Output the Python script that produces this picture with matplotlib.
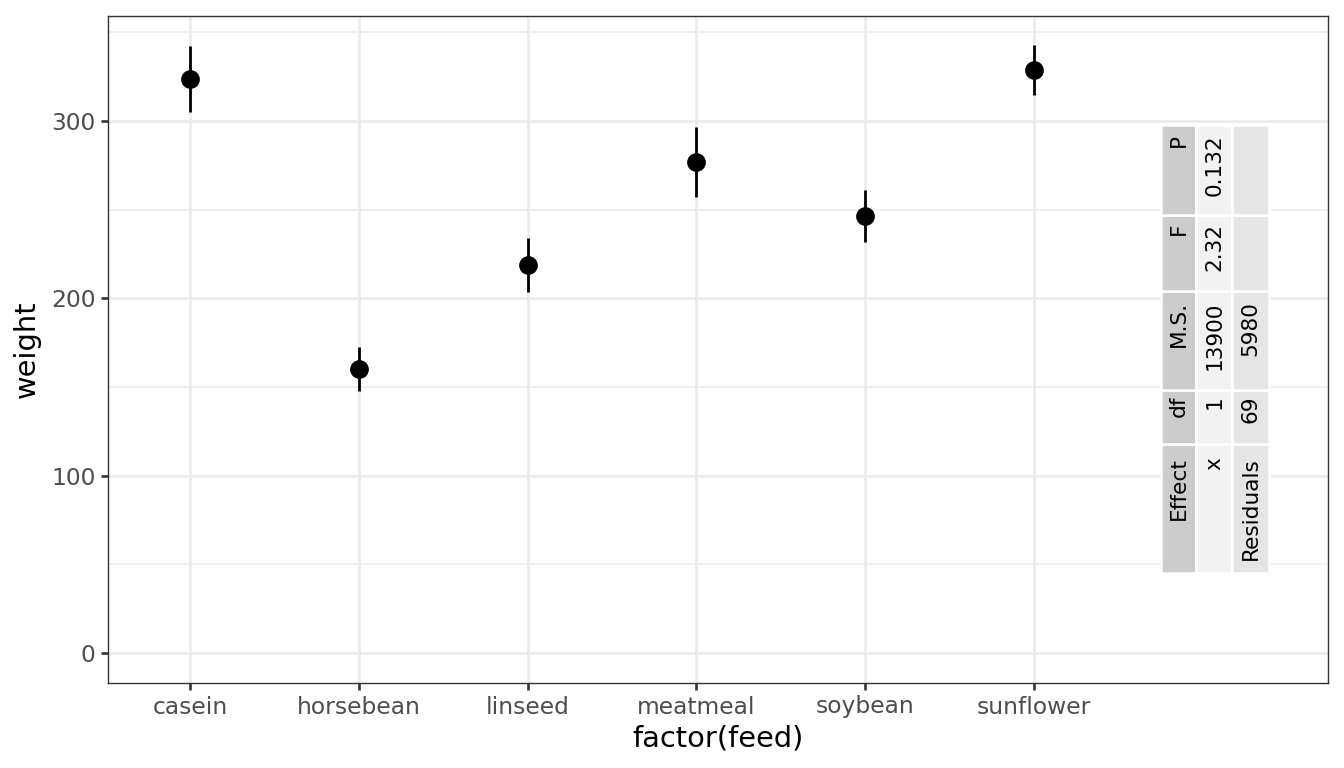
import matplotlib
matplotlib.use("Agg")
import matplotlib.pyplot as plt
from matplotlib.patches import Rectangle
from matplotlib.ticker import FixedLocator

# ---- data ----
feeds = ["casein", "horsebean", "linseed", "meatmeal", "soybean", "sunflower"]
mean_weight = [323.6, 160.2, 218.8, 276.9, 246.4, 328.9]
lower_weight = [305.0, 148.0, 203.7, 257.3, 232.0, 314.8]
upper_weight = [342.2, 172.4, 233.8, 296.5, 260.9, 343.0]
y_ticks = [0, 100, 200, 300]
y_minor = [50, 150, 250, 350]

table_header = ["Effect", "df", "M.S.", "F", "P"]
table_row_x = ["x", "1", "13900", "2.32", "0.132"]
table_row_res = ["Residuals", "69", "5980", "", ""]

# ---- figure ----
W, H = 1344, 768
fig = plt.figure(figsize=(W / 100, H / 100), dpi=100)
ax = fig.add_axes([108 / W, 1 - 683 / H, 1220 / W, 667 / H])

xpos = list(range(1, len(feeds) + 1))
ax.vlines(xpos, lower_weight, upper_weight, color="black", lw=2.0, zorder=3)
ax.plot(xpos, mean_weight, "o", color="black", ms=13.5, mec="none", zorder=4)

ax.set_xlim(0.514, 7.742)
ax.set_ylim(-16.9, 359.2)
ax.set_xticks(xpos)
ax.set_xticklabels(feeds)
ax.set_yticks(y_ticks)
ax.yaxis.set_minor_locator(FixedLocator(y_minor))
ax.grid(True, which="major", color="#EBEBEB", lw=1.9)
ax.grid(True, which="minor", axis="y", color="#EBEBEB", lw=1.1)
ax.set_axisbelow(True)
ax.tick_params(which="minor", length=0)
ax.tick_params(which="major", length=5, width=1.9, color="#333333",
               labelsize=16.8, labelcolor="#4D4D4D")
ax.tick_params(axis="x", pad=4)
ax.tick_params(axis="y", pad=4)
for s in ax.spines.values():
    s.set_color("#333333")
    s.set_linewidth(1.0)
ax.set_xlabel("factor(feed)", fontsize=20.8, labelpad=4, color="black")
ax.set_ylabel("weight", fontsize=20.8, labelpad=7, color="black")

# ---- rotated ANOVA table (layout in pixel units, top-left origin) ----
col_edges_y = [572.5, 444.3, 389.8, 291.3, 215.3, 125.0]  # Effect..P (bottom->top)
row_edges_x = [1161.0, 1196.3, 1232.3, 1268.5]           # header, x, Residuals
row_fill = ["#CCCCCC", "#F2F2F2", "#E5E5E5"]
rows = [table_header, table_row_x, table_row_res]

def fx(px):
    return px / W

def fy(py):
    return 1 - py / H

for r, (cells, fill) in enumerate(zip(rows, row_fill)):
    x0, x1 = row_edges_x[r], row_edges_x[r + 1]
    for c, txt in enumerate(cells):
        yb, yt = col_edges_y[c], col_edges_y[c + 1]
        rect = Rectangle((fx(x0), fy(yb)), fx(x1) - fx(x0), fy(yt) - fy(yb),
                         transform=fig.transFigure, facecolor=fill,
                         edgecolor="white", lw=1.8, zorder=5)
        fig.add_artist(rect)
        if txt:
            ytext = yt + 0.1 * (yb - yt)
            fig.text(fx((x0 + x1) / 2), fy(ytext), txt, rotation=90,
                     ha="center", va="top", fontsize=15.6, color="black",
                     zorder=6)

fig.savefig("out.png", dpi=100)
